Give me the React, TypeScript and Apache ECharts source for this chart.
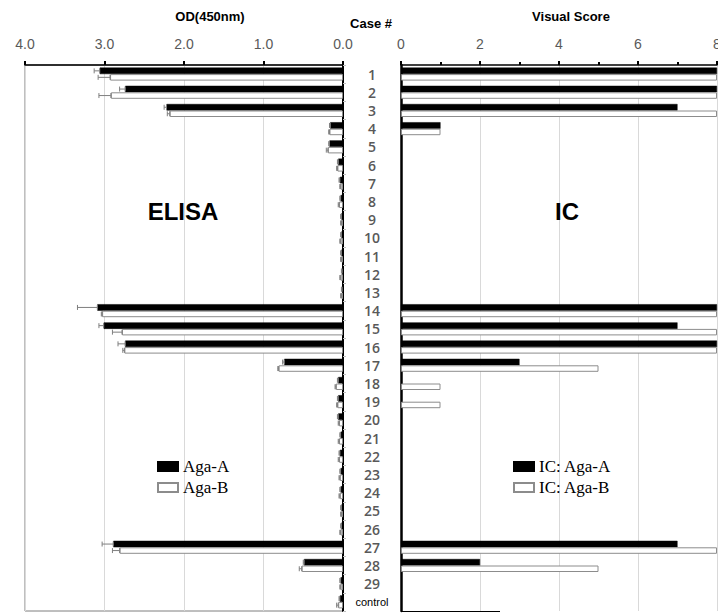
import React, { useEffect, useRef } from "react";
import * as echarts from "echarts";

// Case labels, top to bottom
const cases = [
  "1", "2", "3", "4", "5", "6", "7", "8", "9", "10",
  "11", "12", "13", "14", "15", "16", "17", "18", "19", "20",
  "21", "22", "23", "24", "25", "26", "27", "28", "29", "control",
];

// ELISA optical density at 450 nm
const odA = [
  3.06, 2.74, 2.22, 0.16, 0.17, 0.06, 0.04, 0.03, 0.02, 0.02,
  0.02, 0.01, 0.01, 3.09, 3.01, 2.74, 0.74, 0.06, 0.06, 0.06,
  0.03, 0.04, 0.03, 0.03, 0.02, 0.02, 2.89, 0.49, 0.03, 0.04,
];
const odB = [
  2.93, 2.92, 2.18, 0.17, 0.19, 0.07, 0.03, 0.05, 0.02, 0.03,
  0.02, 0.03, 0.02, 3.03, 2.78, 2.75, 0.81, 0.09, 0.07, 0.05,
  0.05, 0.05, 0.04, 0.04, 0.02, 0.03, 2.81, 0.52, 0.03, 0.06,
];
// Standard deviations
const errA = [
  0.07, 0.07, 0.03, 0.01, 0.01, 0.01, 0.01, 0.01, 0.01, 0.01,
  0.01, 0.01, 0.01, 0.25, 0.06, 0.09, 0.02, 0.01, 0.01, 0.01,
  0.01, 0.01, 0.01, 0.01, 0.01, 0.01, 0.14, 0.01, 0.01, 0.01,
];
const errB = [
  0.15, 0.15, 0.03, 0.01, 0.02, 0.01, 0.01, 0.01, 0.01, 0.01,
  0.01, 0.01, 0.01, 0.01, 0.12, 0.02, 0.01, 0.01, 0.01, 0.01,
  0.01, 0.01, 0.01, 0.01, 0.01, 0.01, 0.09, 0.03, 0.01, 0.02,
];

// Immunochromatography visual scores
const icA = [
  8, 8, 7, 1, 0, 0, 0, 0, 0, 0,
  0, 0, 0, 8, 7, 8, 3, 0, 0, 0,
  0, 0, 0, 0, 0, 0, 7, 2, 0, 0,
];
const icB = [
  8, 8, 8, 1, 0, 0, 0, 0, 0, 0,
  0, 0, 0, 8, 8, 8, 5, 1, 1, 0,
  0, 0, 0, 0, 0, 0, 8, 5, 0, 0,
];

const odTicks = [0, 1, 2, 3, 4];

const BAR_W = 6.5;
const GREY = "#595959";
const TICK_FONT = "'Liberation Sans Narrow', 'Liberation Sans', Arial, sans-serif";

// a score of 0 draws no bar at all
const noZero = (arr: number[]) => arr.map((v) => (v === 0 ? "-" : v));

function errorBar(offset: number) {
  return (params: any, api: any) => {
    const v = api.value(0);
    const idx = api.value(1);
    const e = api.value(2);
    const p0 = api.coord([v, idx]);
    const p1 = api.coord([v + e, idx]);
    const y = p0[1] + offset;
    const cap = 2.5;
    const style = { stroke: "#7f7f7f", lineWidth: 1 };
    return {
      type: "group",
      children: [
        { type: "line", shape: { x1: p0[0], y1: y, x2: p1[0], y2: y }, style },
        { type: "line", shape: { x1: p0[0], y1: y - cap, x2: p0[0], y2: y + cap }, style },
        { type: "line", shape: { x1: p1[0], y1: y - cap, x2: p1[0], y2: y + cap }, style },
      ],
    };
  };
}

export default function App() {
  const ref = useRef<HTMLDivElement>(null);

  useEffect(() => {
    if (!ref.current) return;
    const chart = echarts.init(ref.current, null, { renderer: "svg" });

    const legendText = {
      fontFamily: "'Liberation Serif', 'Times New Roman', serif",
      fontSize: 17,
      color: "#000",
    };

    const option: any = {
      animation: false,
      backgroundColor: "#ffffff",
      title: [
        { text: "OD(450nm)", left: 205, top: 5, textAlign: "center",
          textStyle: { fontFamily: "'Liberation Sans', Arial", fontSize: 13, fontWeight: "bold", color: "#000" } },
        { text: "Case #", left: 366, top: 12, textAlign: "center",
          textStyle: { fontFamily: "'Liberation Sans', Arial", fontSize: 13, fontWeight: "bold", color: "#000" } },
        { text: "Visual Score", left: 566, top: 5, textAlign: "center",
          textStyle: { fontFamily: "'Liberation Sans', Arial", fontSize: 13, fontWeight: "bold", color: "#000" } },
        { text: "ELISA", left: 178, top: 194, textAlign: "center",
          textStyle: { fontFamily: "'Liberation Sans', Arial", fontSize: 24, fontWeight: "bold", color: "#000" } },
        { text: "IC", left: 562, top: 194, textAlign: "center",
          textStyle: { fontFamily: "'Liberation Sans', Arial", fontSize: 24, fontWeight: "bold", color: "#000" } },
      ],
      legend: [
        {
          data: ["Aga-A", "Aga-B"], orient: "vertical", left: 152, top: 453,
          icon: "rect", itemWidth: 20, itemHeight: 9, itemGap: 4,
          textStyle: legendText,
        },
        {
          data: ["IC: Aga-A", "IC: Aga-B"], orient: "vertical", left: 508, top: 453,
          icon: "rect", itemWidth: 20, itemHeight: 9, itemGap: 4,
          textStyle: legendText,
        },
      ],
      grid: [
        { left: 25, right: 375, top: 65, bottom: 2, outerBoundsMode: "none", containLabel: false,
          show: true, borderColor: "#7f7f7f", borderWidth: 1 },
        { left: 401, right: 1, top: 65, bottom: 2, outerBoundsMode: "none", containLabel: false },
      ],
      xAxis: [
        {
          gridIndex: 0, type: "value", position: "top", inverse: true,
          min: 0, max: 4, interval: 1,
          axisLine: { show: true, lineStyle: { color: "#000", width: 1.5 } },
          axisTick: { show: true, length: 4, lineStyle: { color: "#000", width: 2 } },
          axisLabel: { margin: 14, fontFamily: TICK_FONT, fontSize: 14, color: GREY,
            formatter: (v: number) => (odTicks.includes(v) ? v.toFixed(1) : "") },
          splitLine: { show: true, lineStyle: { color: "#d9d9d9", width: 1 } },
        },
        {
          gridIndex: 1, type: "value", position: "top",
          min: 0, max: 8, interval: 2,
          axisLine: { show: true, lineStyle: { color: "#000", width: 1.5 } },
          axisTick: { show: true, length: 4, lineStyle: { color: "#000", width: 2 } },
          minorTick: { show: true, splitNumber: 2, length: 3, lineStyle: { color: "#000", width: 2 } },
          axisLabel: { margin: 14, fontFamily: TICK_FONT, fontSize: 14, color: GREY },
          splitLine: { show: true, lineStyle: { color: "#d9d9d9", width: 1 } },
        },
      ],
      yAxis: [
        {
          gridIndex: 0, type: "category", data: cases, inverse: true, position: "right",
          axisLine: { show: true, lineStyle: { color: "#000", width: 2 } },
          axisTick: { show: true, length: 3, inside: false, lineStyle: { color: "#bfbfbf" } },
          axisLabel: {
            margin: 29, align: "center",
            formatter: (v: string) => (v === "control" ? "{c|" + v + "}" : v),
            fontFamily: "'Open Sans', 'Noto Sans', sans-serif", fontSize: 14, fontWeight: 600, color: GREY,
            rich: { c: { fontFamily: "'Liberation Sans', Arial", fontSize: 11, fontWeight: "normal", color: "#000" } },
          },
        },
        {
          gridIndex: 1, type: "category", data: cases, inverse: true, position: "left",
          axisLine: { show: true, lineStyle: { color: "#000", width: 2.5 } },
          axisTick: { show: false },
          axisLabel: { show: false },
        },
      ],
      series: [
        {
          name: "Aga-A", type: "bar", xAxisIndex: 0, yAxisIndex: 0, data: odA,
          barWidth: BAR_W, barGap: "0%",
          itemStyle: { color: "#000", borderColor: "#000", borderWidth: 0.5 },
        },
        {
          name: "Aga-B", type: "bar", xAxisIndex: 0, yAxisIndex: 0, data: odB,
          barWidth: BAR_W, barGap: "0%",
          itemStyle: { color: "#fff", borderColor: "#8c8c8c", borderWidth: 1 },
        },
        {
          name: "errA", type: "custom", xAxisIndex: 0, yAxisIndex: 0, z: 5,
          renderItem: errorBar(-BAR_W / 2),
          encode: { x: 0, y: 1 },
          data: odA.map((v, i) => [v, i, errA[i]]),
        },
        {
          name: "errB", type: "custom", xAxisIndex: 0, yAxisIndex: 0, z: 5,
          renderItem: errorBar(BAR_W / 2),
          encode: { x: 0, y: 1 },
          data: odB.map((v, i) => [v, i, errB[i]]),
        },
        {
          name: "IC: Aga-A", type: "bar", xAxisIndex: 1, yAxisIndex: 1, data: noZero(icA),
          barWidth: BAR_W, barGap: "0%",
          itemStyle: { color: "#000", borderColor: "#000", borderWidth: 0.5 },
        },
        {
          name: "IC: Aga-B", type: "bar", xAxisIndex: 1, yAxisIndex: 1, data: noZero(icB),
          barWidth: BAR_W, barGap: "0%",
          itemStyle: { color: "#fff", borderColor: "#8c8c8c", borderWidth: 1 },
        },
      ],
      graphic: [
        { type: "line", shape: { x1: 401, y1: 611.5, x2: 500, y2: 611.5 }, style: { stroke: "#000", lineWidth: 1 } },
      ],
    };

    chart.setOption(option);
    return () => chart.dispose();
  }, []);

  return (
    <div
      ref={ref}
      style={{ position: "fixed", left: 0, top: 0, width: 718, height: 613, background: "#fff" }}
    />
  );
}
